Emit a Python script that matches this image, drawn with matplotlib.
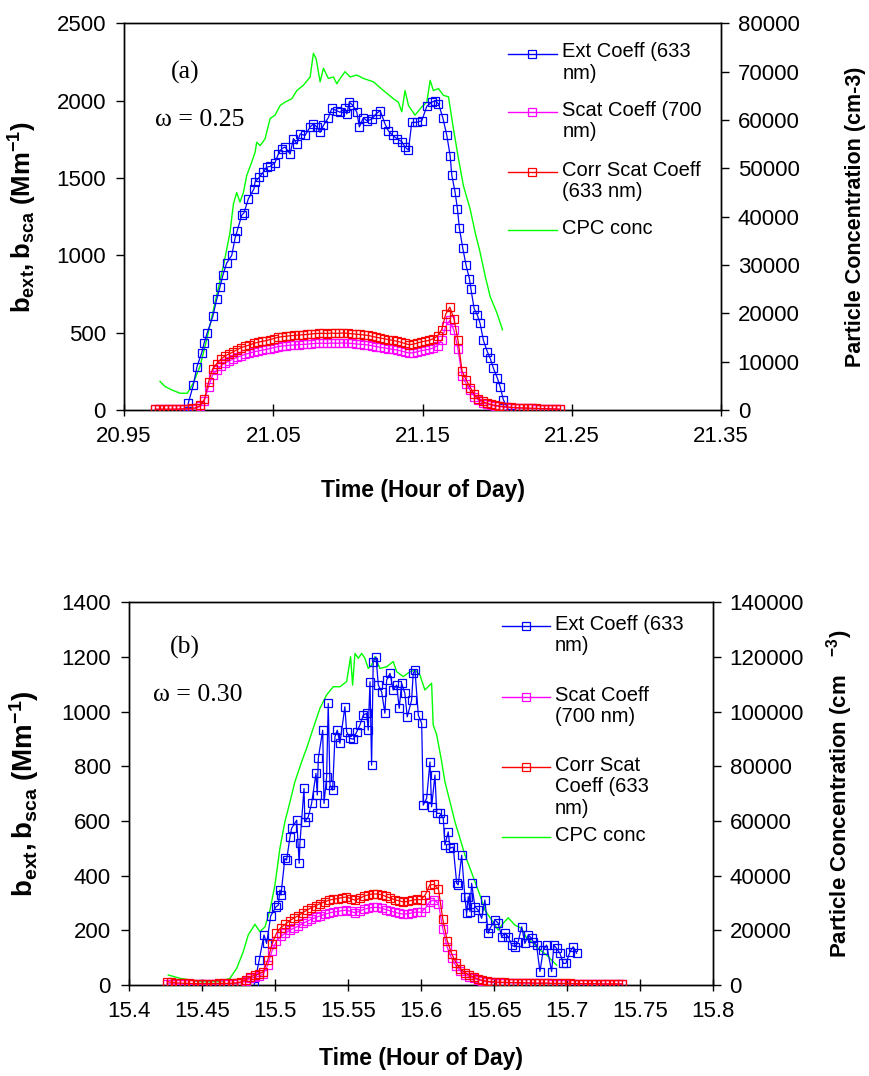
import numpy as np
import matplotlib
matplotlib.use("Agg")
import matplotlib.pyplot as plt
from matplotlib.lines import Line2D
from matplotlib.transforms import offset_copy

plt.rcParams['font.family'] = ['Liberation Sans', 'DejaVu Sans']
plt.rcParams['mathtext.fontset'] = 'custom'
plt.rcParams['mathtext.rm'] = 'Liberation Sans'
plt.rcParams['mathtext.bf'] = 'Liberation Sans:bold'
plt.rcParams['mathtext.it'] = 'Liberation Sans:italic'

# ---------------- Panel (a) data ----------------
a_ext_t = [20.9925, 20.9931, 20.9964, 20.9989, 21.0021, 21.0036, 21.0058, 21.0095, 21.0121, 21.0143,
           21.0162, 21.0188, 21.0222, 21.0244, 21.0259, 21.0289, 21.0304, 21.0333, 21.0371, 21.0378,
           21.0407, 21.0434, 21.0456, 21.0479, 21.0512, 21.0534, 21.0557, 21.0579, 21.0613, 21.0635,
           21.0658, 21.0680, 21.0713, 21.0747, 21.0769, 21.0792, 21.0814, 21.0836, 21.0869, 21.0892,
           21.0926, 21.0948, 21.0981, 21.0993, 21.1010, 21.1033, 21.1060, 21.1077, 21.1104, 21.1127,
           21.1160, 21.1189, 21.1216, 21.1249, 21.1271, 21.1301, 21.1328, 21.1361, 21.1383, 21.1406,
           21.1428, 21.1462, 21.1495, 21.1529, 21.1562, 21.1584, 21.1607, 21.1636, 21.1663, 21.1685,
           21.1696, 21.1718, 21.1734, 21.1747, 21.1770, 21.1792, 21.1814, 21.1824, 21.1846, 21.1868,
           21.1886, 21.1908, 21.1935, 21.1953, 21.1975, 21.2002, 21.2020, 21.2042, 21.2087]
a_ext_v = [-25, 45, 160, 280, 370, 430, 500, 605, 715, 795,
           870, 950, 1000, 1110, 1160, 1260, 1275, 1365, 1430, 1475,
           1505, 1540, 1570, 1575, 1600, 1655, 1690, 1700, 1655, 1755,
           1720, 1785, 1775, 1830, 1850, 1830, 1795, 1840, 1890, 1950,
           1935, 1925, 1950, 1915, 1990, 1970, 1925, 1830, 1890, 1870,
           1880, 1915, 1935, 1850, 1805, 1775, 1755, 1735, 1700, 1680,
           1860, 1860, 1870, 1965, 1990, 2000, 1980, 1890, 1775, 1645,
           1520, 1410, 1300, 1175, 1045, 935, 850, 785, 655, 612,
           560, 450, 375, 335, 270, 205, 150, 65, -20]

a_sc_start, a_sc_end = 20.971, 21.2423
a_corr_v = [5, 5, 5, 5, 5, 6, 6, 8, 8, 10,
            15, 30, 70, 180, 265, 300, 328, 348, 362, 375,
            390, 403, 412, 420, 430, 437, 443, 448, 455, 462,
            470, 474, 477, 480, 482, 484, 486, 488, 491, 494,
            495, 496, 494, 497, 495, 496, 498, 495, 493, 490,
            488, 485, 482, 476, 470, 465, 460, 455, 450, 445,
            438, 430, 422, 425, 432, 440, 445, 450, 462, 478,
            520, 620, 665, 590, 450, 250, 195, 145, 100, 72,
            55, 44, 36, 30, 26, 22, 19, 17, 15, 14,
            13, 12, 11, 10, 9, 8, 8, 7, 6, 5]
a_scat_v = [3, 3, 3, 3, 3, 4, 4, 5, 5, 7,
            10, 25, 60, 150, 225, 258, 285, 303, 316, 328,
            340, 351, 360, 367, 375, 381, 386, 391, 397, 403,
            410, 413, 416, 419, 420, 422, 424, 425, 428, 430,
            431, 432, 430, 433, 431, 432, 434, 431, 430, 427,
            425, 423, 420, 415, 410, 405, 401, 397, 392, 388,
            382, 375, 368, 370, 376, 383, 388, 392, 402, 416,
            452, 540, 580, 515, 392, 218, 170, 126, 87, 63,
            48, 38, 31, 26, 23, 19, 17, 15, 13, 12,
            11, 10, 10, 9, 8, 7, 7, 6, 5, 4]

a_cpc_t = [20.9741, 20.9775, 20.9820, 20.9875, 20.9924, 20.9964, 21.0009, 21.0054, 21.0110, 21.0166,
           21.0210, 21.0233, 21.0255, 21.0277, 21.0300, 21.0322, 21.0356, 21.0378, 21.0389, 21.0412,
           21.0445, 21.0479, 21.0512, 21.0546, 21.0579, 21.0624, 21.0658, 21.0702, 21.0747, 21.0769,
           21.0787, 21.0814, 21.0836, 21.0869, 21.0903, 21.0926, 21.0948, 21.0981, 21.1015, 21.1060,
           21.1104, 21.1171, 21.1238, 21.1305, 21.1338, 21.1361, 21.1383, 21.1406, 21.1450, 21.1495,
           21.1529, 21.1551, 21.1573, 21.1607, 21.1640, 21.1674, 21.1707, 21.1741, 21.1774, 21.1819,
           21.1853, 21.1886, 21.1920, 21.1953, 21.1998, 21.2036]
a_cpc_v = [5900, 4850, 4150, 3460, 3460, 5550, 9000, 14550, 22200, 29800,
           36700, 42600, 45000, 43000, 45000, 48500, 51300, 53300, 55400, 54700,
           56100, 60300, 61000, 63000, 63700, 64400, 66100, 67200, 68900, 73800,
           72700, 67900, 70700, 68600, 68900, 67500, 68600, 70000, 68900, 69300,
           68600, 67900, 66100, 64400, 63700, 61700, 66100, 63000, 61000, 62700,
           63700, 68200, 66100, 66500, 65100, 64800, 58200, 52000, 46400, 41600,
           36700, 32600, 27700, 23500, 20100, 16600]

# ---------------- Panel (b) data ----------------
b_ext_t = [15.4856, 15.4892, 15.4925, 15.4943, 15.4971, 15.5007, 15.5023, 15.5034, 15.5041, 15.5068,
           15.5080, 15.5103, 15.5114, 15.5149, 15.5166, 15.5171, 15.5199, 15.5205, 15.5228, 15.5251,
           15.5281, 15.5290, 15.5297, 15.5327, 15.5336, 15.5354, 15.5365, 15.5377, 15.5395, 15.5411,
           15.5427, 15.5445, 15.5479, 15.5491, 15.5514, 15.5536, 15.5560, 15.5582, 15.5605, 15.5628,
           15.5639, 15.5651, 15.5662, 15.5673, 15.5692, 15.5708, 15.5731, 15.5753, 15.5765, 15.5788,
           15.5810, 15.5834, 15.5851, 15.5868, 15.5890, 15.5906, 15.5936, 15.5947, 15.5959, 15.5982,
           15.6005, 15.6016, 15.6039, 15.6062, 15.6073, 15.6096, 15.6108, 15.6130, 15.6153, 15.6164,
           15.6187, 15.6199, 15.6221, 15.6245, 15.6255, 15.6279, 15.6301, 15.6313, 15.6324, 15.6336,
           15.6347, 15.6370, 15.6392, 15.6416, 15.6438, 15.6461, 15.6473, 15.6507, 15.6529, 15.6553,
           15.6575, 15.6598, 15.6621, 15.6644, 15.6666, 15.6690, 15.6712, 15.6735, 15.6758, 15.6769,
           15.6792, 15.6815, 15.6838, 15.6861, 15.6895, 15.6911, 15.6929, 15.6952, 15.6975, 15.6993,
           15.7021, 15.7043, 15.7066]
b_ext_v = [-5, 91, 183, 152, 253, 286, 292, 347, 329, 463,
           457, 542, 573, 603, 445, 518, 719, 597, 615, 664,
           774, 695, 829, 932, 664, 762, 1030, 731, 713, 908,
           932, 884, 1018, 926, 902, 899, 926, 951, 987, 994,
           932, 1109, 804, 1182, 1200, 1097, 1072, 994, 1115, 1140,
           1079, 1097, 1012, 1103, 1067, 981, 1042, 1140, 1152, 987,
           957, 658, 683, 816, 652, 768, 628, 628, 609, 512,
           560, 500, 505, 372, 366, 475, 323, 262, 323, 268,
           372, 286, 274, 244, 311, 189, 207, 238, 226, 177,
           189, 177, 146, 140, 158, 213, 152, 183, 171, 158,
           146, 49, 128, 146, 49, 146, 134, 116, 79, 79,
           122, 140, 116]

b_sc_start, b_sc_end = 15.426, 15.738
b_corr_v = [12, 10, 8, 7, 6, 6, 5, 5, 5, 5,
            5, 5, 6, 6, 6, 7, 8, 12, 18, 30,
            35, 40, 49, 90, 150, 189, 210, 222, 235, 245,
            253, 265, 274, 283, 290, 298, 304, 310, 314, 316,
            320, 322, 316, 310, 317, 325, 330, 333, 333, 330,
            324, 318, 312, 308, 304, 306, 310, 313, 312, 330,
            366, 368, 350, 240, 162, 115, 82, 60, 45, 36,
            29, 22, 17, 14, 12, 11, 10, 10, 9, 9,
            9, 8, 8, 8, 7, 7, 7, 7, 6, 6,
            6, 6, 6, 5, 5, 5, 5, 5, 5, 4,
            4, 4, 4, 4, 4]
b_scat_v = [5, 4, 4, 3, 3, 3, 3, 3, 3, 3,
            3, 3, 4, 4, 4, 5, 6, 9, 14, 24,
            28, 32, 40, 72, 125, 160, 178, 189, 200, 208,
            215, 225, 233, 241, 247, 253, 258, 263, 267, 269,
            272, 274, 269, 264, 270, 277, 281, 284, 284, 281,
            276, 271, 266, 262, 259, 261, 264, 267, 266, 281,
            305, 311, 298, 205, 138, 98, 70, 51, 38, 31,
            25, 19, 15, 12, 10, 9, 9, 8, 8, 8,
            7, 7, 7, 6, 6, 6, 6, 6, 5, 5,
            5, 5, 5, 4, 4, 4, 4, 4, 4, 3,
            3, 3, 3, 3, 3]

b_cpc_t = [15.4269, 15.4349, 15.4486, 15.4623, 15.4692, 15.4738, 15.4783, 15.4817, 15.4863, 15.4897,
           15.4932, 15.4966, 15.5000, 15.5034, 15.5068, 15.5103, 15.5137, 15.5183, 15.5217, 15.5262,
           15.5308, 15.5354, 15.5399, 15.5445, 15.5491, 15.5509, 15.5518, 15.5532, 15.5548, 15.5571,
           15.5594, 15.5616, 15.5639, 15.5662, 15.5685, 15.5719, 15.5765, 15.5810, 15.5834, 15.5879,
           15.5925, 15.5959, 15.5993, 15.6027, 15.6073, 15.6084, 15.6108, 15.6142, 15.6164, 15.6199,
           15.6233, 15.6267, 15.6301, 15.6336, 15.6370, 15.6404, 15.6438, 15.6484, 15.6529, 15.6564,
           15.6598, 15.6644, 15.6690, 15.6724, 15.6769, 15.6815, 15.6861, 15.6895, 15.6929]
b_cpc_v = [3660, 2450, 1200, 1200, 2450, 6100, 12200, 18300, 22200, 19500,
           21300, 27400, 36600, 50000, 59700, 67000, 74400, 81700, 86600, 93900,
           101200, 106100, 109100, 109100, 111000, 117000, 120100, 109700, 121300, 119500,
           121300, 119500, 115800, 117000, 120100, 115800, 116400, 118300, 114600, 112800,
           114600, 115200, 113400, 107900, 110400, 95100, 91500, 81700, 74400, 67000,
           59700, 53700, 47600, 42700, 37800, 32900, 27400, 23800, 20100, 22600,
           24600, 21900, 20700, 17100, 15300, 12800, 11000, 9100, 7300]

a_xticks = [20.95, 21.05, 21.15, 21.25, 21.35]
a_xticklabels = ["20.95", "21.05", "21.15", "21.25", "21.35"]
b_xticks = [15.4, 15.45, 15.5, 15.55, 15.6, 15.65, 15.7, 15.75, 15.8]
b_xticklabels = ["15.4", "15.45", "15.5", "15.55", "15.6", "15.65", "15.7", "15.75", "15.8"]

a_legend = ["Ext Coeff (633\nnm)", "Scat Coeff (700\nnm)", "Corr Scat Coeff\n(633 nm)", "CPC conc"]
b_legend = ["Ext Coeff (633\nnm)", "Scat Coeff\n(700 nm)", "Corr Scat\nCoeff (633\nnm)", "CPC conc"]

BLUE, MAG, RED, GREEN = '#0000FF', '#FF00FF', '#FF0000', '#00FF00'
FS_LEG = 14.5
FS_XT = 16
FS_YT = 16

fig = plt.figure(figsize=(8.69, 10.76), dpi=100)


def panel(rect, ext_t, ext_v, sc_start, sc_end, scat_v, corr_v, cpc_t, cpc_v,
          xlim, xticks, xlabels, ymax, ystep, y2max, y2step, y2label, tag, omega,
          legend_labels, leg_y, leg_x, tag_pos, om_pos, lab_x, xlab_y, ylab_fs, y2lab_fs):
    ax = fig.add_axes(rect)
    ax2 = ax.twinx()
    ax.set_zorder(ax2.get_zorder() + 1)
    ax.patch.set_visible(False)

    sc_t = np.linspace(sc_start, sc_end, len(corr_v))
    mk = dict(marker='s', mfc='none', ms=6.2, mew=0.9, lw=0.9)
    ax.plot(ext_t, ext_v, color=BLUE, mec=BLUE, **mk, zorder=3)
    ax.plot(sc_t, scat_v, color=MAG, mec=MAG, **mk, zorder=4)
    ax.plot(sc_t, corr_v, color=RED, mec=RED, **mk, zorder=5)
    ax2.plot(cpc_t, cpc_v, color=GREEN, lw=1.0)

    ax.set_xlim(*xlim)
    ax.set_ylim(0, ymax)
    ax2.set_ylim(0, y2max)
    ax.set_xticks(xticks)
    ax.set_xticklabels(xlabels)
    ax.set_yticks(np.arange(0, ymax + 1, ystep))
    ax2.set_yticks(np.arange(0, y2max + 1, y2step))
    ax.tick_params(axis='x', direction='inout', length=9, width=1, labelsize=FS_XT, pad=7)
    ax.tick_params(axis='y', direction='out', length=6, width=1, labelsize=FS_YT, pad=7)
    ax2.tick_params(axis='y', direction='out', length=6, width=1, labelsize=FS_YT, pad=6)
    for a in (ax, ax2):
        for s in a.spines.values():
            s.set_linewidth(1.0)

    ax.set_xlabel("Time (Hour of Day)", fontsize=16.5, fontweight='bold')
    ax.xaxis.set_label_coords(0.5, xlab_y)
    ax.set_ylabel(r"$\mathbf{b_{ext}, b_{sca}}$ (Mm$^{\mathbf{-1}}$)", fontsize=ylab_fs, fontweight='bold')
    ax.yaxis.set_label_coords(lab_x[0], 0.5)
    ax2.set_ylabel(y2label, fontsize=y2lab_fs, fontweight='bold', rotation=90)
    ax2.yaxis.set_label_coords(lab_x[1], 0.5)

    ax.text(tag_pos[0], tag_pos[1], tag, transform=ax.transAxes, fontsize=18.5,
            family='Liberation Serif', ha='center', va='center')
    ax.text(om_pos[0], om_pos[1], omega, transform=ax.transAxes, fontsize=18.5,
            family='Liberation Serif', ha='center', va='center')

    colors = [BLUE, MAG, RED, GREEN]
    markers = [True, True, True, False]
    x0, x1, xt = leg_x
    ttrans = offset_copy(ax.transAxes, fig=fig, y=8.0, units='points')
    for lab, c, m, y in zip(legend_labels, colors, markers, leg_y):
        ax.add_line(Line2D([x0, x1], [y, y], transform=ax.transAxes, color=c, lw=1.0, clip_on=False))
        if m:
            ax.add_line(Line2D([(x0 + x1) / 2], [y], transform=ax.transAxes, marker='s', mfc='none',
                               mec=c, ms=6, mew=0.9, clip_on=False))
        ax.text(xt, y, lab, transform=ttrans, fontsize=FS_LEG, ha='left', va='top', linespacing=1.15)
    return ax, ax2


panel([0.1427, 0.6190, 0.687, 0.3593], a_ext_t, a_ext_v, a_sc_start, a_sc_end, a_scat_v, a_corr_v,
      a_cpc_t, a_cpc_v, (20.95, 21.35), a_xticks, a_xticklabels, 2500, 500, 80000, 10000,
      "Particle Concentration (cm-3)", "(a)", "ω = 0.25", a_legend,
      [0.922, 0.771, 0.616, 0.465], (0.643, 0.725, 0.734), (0.102, 0.874), (0.127, 0.75),
      (-0.142, 1.2077), -0.178, 18.5, 15.5)

panel([0.1484, 0.08457, 0.672, 0.3557], b_ext_t, b_ext_v, b_sc_start, b_sc_end, b_scat_v, b_corr_v,
      b_cpc_t, b_cpc_v, (15.4, 15.8), b_xticks, b_xticklabels, 1400, 200, 140000, 20000,
      r"Particle Concentration (cm   $^{\mathbf{-3}}$)", "(b)", "ω = 0.30", b_legend,
      [0.938, 0.752, 0.569, 0.386], (0.638, 0.721, 0.729), (0.096, 0.881), (0.118, 0.758),
      (-0.150, 1.19), -0.162, 20, 16)

fig.savefig("out.png", dpi=100)
